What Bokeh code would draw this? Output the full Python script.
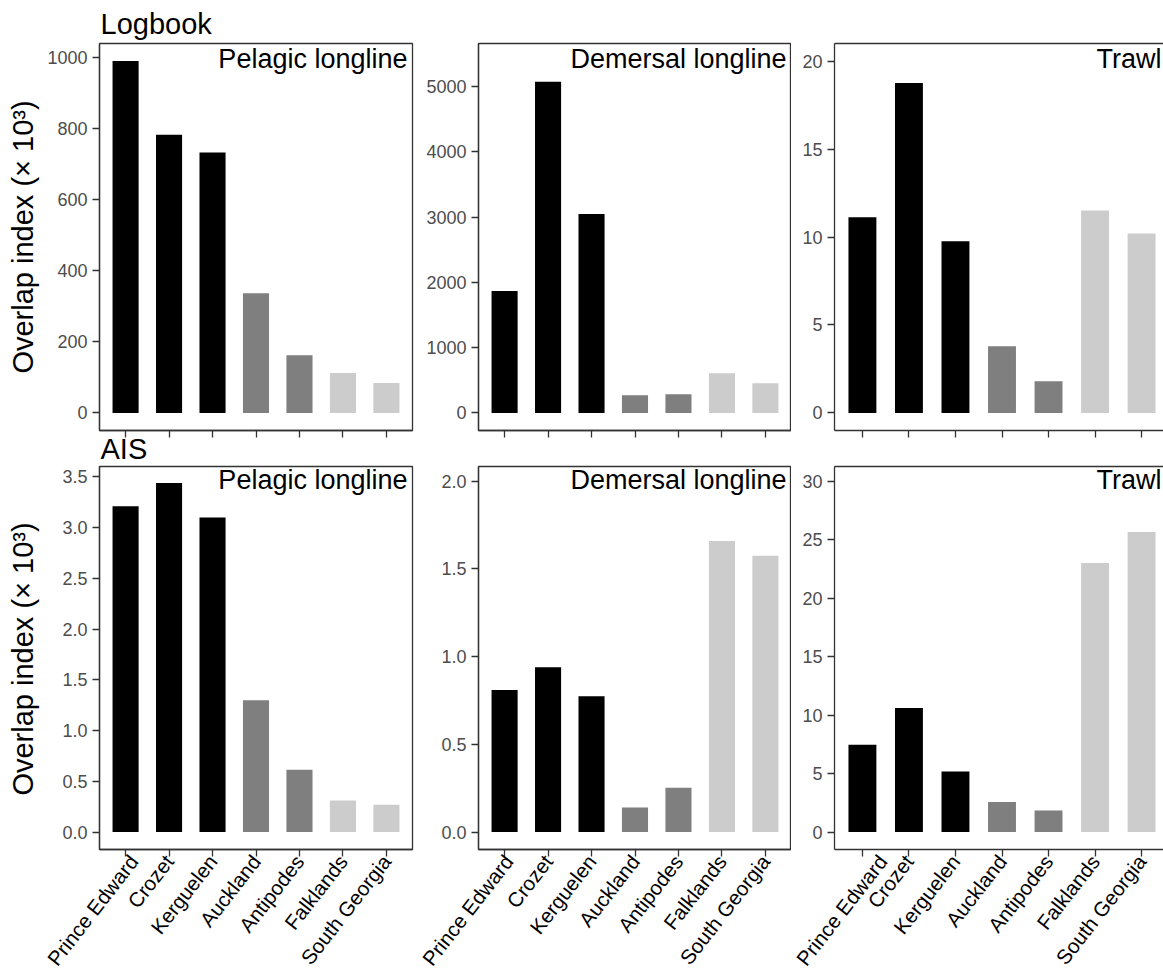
import math
from bokeh.plotting import figure
from bokeh.layouts import row, column
from bokeh.models import (Range1d, FixedTicker, Label, LinearAxis, ColumnDataSource,
                          Title)
from bokeh.embed import file_html
from bokeh.resources import INLINE

# ---------------- data ----------------
sites = ["Prince Edward", "Crozet", "Kerguelen", "Auckland", "Antipodes",
         "Falklands", "South Georgia"]
site_region = ["Indian", "Indian", "Indian", "Pacific", "Pacific",
               "Atlantic", "Atlantic"]
gears = ["Pelagic longline", "Demersal longline", "Trawl"]
row_names = ["Logbook", "AIS"]

logbook_pelagic = [990, 783, 733, 337, 162, 112, 84]
logbook_demersal = [1867, 5077, 3048, 271, 287, 609, 455]
logbook_trawl = [11.12, 18.75, 9.76, 3.79, 1.80, 11.5, 10.2]
ais_pelagic = [3.21, 3.44, 3.10, 1.30, 0.615, 0.31, 0.27]
ais_demersal = [0.81, 0.94, 0.775, 0.14, 0.253, 1.66, 1.575]
ais_trawl = [7.46, 10.6, 5.17, 2.58, 1.85, 23.0, 25.66]

# upper end of each panel's data range (ggplot adds 5% on both ends)
logbook_ymax = [990, 5392, 20.0]
ais_ymax = [3.43, 1.985, 29.77]

logbook_ticks = [[0, 200, 400, 600, 800, 1000],
                 [0, 1000, 2000, 3000, 4000, 5000],
                 [0, 5, 10, 15, 20]]
logbook_tick_labels = [["0", "200", "400", "600", "800", "1000"],
                       ["0", "1000", "2000", "3000", "4000", "5000"],
                       ["0", "5", "10", "15", "20"]]
ais_ticks = [[0, 0.5, 1.0, 1.5, 2.0, 2.5, 3.0, 3.5],
             [0, 0.5, 1.0, 1.5, 2.0],
             [0, 5, 10, 15, 20, 25, 30]]
ais_tick_labels = [["0.0", "0.5", "1.0", "1.5", "2.0", "2.5", "3.0", "3.5"],
                   ["0.0", "0.5", "1.0", "1.5", "2.0"],
                   ["0", "5", "10", "15", "20", "25", "30"]]

y_label = "Overlap index (\u00d7 10\u00b3)"

# ---------------- style / geometry ----------------
region_colors = {"Indian": "#000000", "Pacific": "#7F7F7F", "Atlantic": "#CCCCCC"}
FONT = "Liberation Sans"
EDGE = "#333333"
TICKTXT = "#4D4D4D"
MID = 0.3465          # distance from alphabetic baseline to text middle, in em
EMH = 1.117           # ascent + descent of the font, in em

YLAB_W = 42
TOTAL_W = 1163
left_border = [57, 61, 43]
right_border = [5, 0, 0]
frame_w = [313, 313, 329]
orig_w = [313, 313, 335]      # third panel runs past the right edge

TOP_TB, TOP_FH, TOP_BB = 43, 387, 35
BOT_TB, BOT_FH, BOT_BB = 1, 385, 128
TOTAL_H = TOP_TB + TOP_FH + TOP_BB + BOT_TB + BOT_FH + BOT_BB
TICK_OUT = 7

FACET_PX = 27
FACET_BASE = 25       # facet label baseline below the frame top
TITLE_PX = 29
YLAB_PX = 29


def blank(width, height):
    p = figure(width=width, height=height, x_range=Range1d(0, 1), y_range=Range1d(0, 1),
               min_border=0, x_axis_location=None, y_axis_location=None,
               output_backend="svg", toolbar_location=None)
    p.outline_line_color = None
    p.xgrid.visible = False
    p.ygrid.visible = False
    p.background_fill_color = "white"
    p.border_fill_color = "white"
    return p


def panel(values, ymax, ticks, tick_labels, gear_name, col, bottom):
    lb, rb, fw = left_border[col], right_border[col], frame_w[col]
    if bottom:
        tb, fh, bb = BOT_TB, BOT_FH, BOT_BB
    else:
        tb, fh, bb = TOP_TB, TOP_FH, TOP_BB
    x_end = 0.4 + 7.2 * fw / orig_w[col]
    p = figure(width=lb + fw + rb, height=tb + fh + bb,
               x_range=Range1d(0.4, x_end),
               y_range=Range1d(-0.05 * ymax, 1.05 * ymax),
               min_border_left=lb, min_border_right=rb,
               min_border_top=tb, min_border_bottom=bb,
               output_backend="svg", toolbar_location=None)
    p.background_fill_color = "white"
    p.border_fill_color = "white"
    p.xgrid.visible = False
    p.ygrid.visible = False

    xs = [i + 1 for i in range(len(sites))]
    src = ColumnDataSource(dict(x=xs, top=values, site=sites,
                                color=[region_colors[r] for r in site_region]))
    p.vbar(x="x", top="top", bottom=0, width=0.6, fill_color="color",
           line_color=None, source=src)

    for ax in (p.xaxis[0], p.yaxis[0]):
        ax.major_tick_line_color = EDGE
        ax.major_tick_line_width = 1.3
        ax.major_tick_out = TICK_OUT
        ax.major_tick_in = 0
        ax.minor_tick_line_color = None
        ax.axis_line_color = EDGE
        ax.axis_line_width = 1.3
        ax.major_label_text_font = FONT

    xa = p.xaxis[0]
    xa.ticker = FixedTicker(ticks=xs)
    if bottom:
        xa.major_label_overrides = {x: s for x, s in zip(xs, sites)}
        xa.major_label_orientation = math.radians(52)
        xa.major_label_text_font_size = "20.5px"
        xa.major_label_text_color = "black"
        xa.major_label_standoff = 1
    else:
        xa.major_label_overrides = {x: "" for x in xs}
        xa.major_label_text_font_size = "0px"
        xa.major_label_standoff = 0

    ya = p.yaxis[0]
    ya.ticker = FixedTicker(ticks=ticks)
    ya.major_label_overrides = {t: s for t, s in zip(ticks, tick_labels)}
    ya.major_label_text_font_size = "18px"
    ya.major_label_text_color = TICKTXT
    ya.major_label_standoff = 5

    if col < 2:
        p.outline_line_color = EDGE
        p.outline_line_width = 1.3
    else:
        p.outline_line_color = None
        top_ax = LinearAxis(ticker=FixedTicker(ticks=[]), axis_line_color=EDGE,
                            axis_line_width=1.3, major_tick_line_color=None,
                            minor_tick_line_color=None,
                            major_label_text_font_size="0px")
        p.add_layout(top_ax, "above")

    # facet label in the top right corner of the panel
    p.add_layout(Label(x=fw - (2 if col == 2 else 5),
                       y=fh - (FACET_BASE - MID * FACET_PX),
                       x_units="screen", y_units="screen", text=gear_name,
                       text_align="right", text_baseline="middle",
                       text_font=FONT, text_font_size=f"{FACET_PX}px",
                       text_color="black"))

    if col == 0 and not bottom:
        em = EMH * TITLE_PX
        # "Logbook": baseline 10px above the frame
        size1 = 2 * (10 + MID * TITLE_PX)
        p.title.text = row_names[0]
        p.title.align = "left"
        p.title.offset = 1
        p.title.vertical_align = "middle"
        p.title.standoff = size1 - 2 - em
        p.title.text_font = FONT
        p.title.text_font_size = f"{TITLE_PX}px"
        p.title.text_font_style = "normal"
        p.title.text_color = "black"
        # "AIS": baseline 28.5px below this frame, i.e. under the tick marks
        size2 = 2 * (28.5 - TICK_OUT - MID * TITLE_PX)
        p.add_layout(Title(text=row_names[1], align="left", offset=1,
                           vertical_align="middle", standoff=size2 - 2 - em,
                           text_font=FONT, text_font_size=f"{TITLE_PX}px",
                           text_font_style="normal", text_color="black"), "below")
    return p


top_vals = [logbook_pelagic, logbook_demersal, logbook_trawl]
bot_vals = [ais_pelagic, ais_demersal, ais_trawl]

top_row = [panel(top_vals[i], logbook_ymax[i], logbook_ticks[i],
                 logbook_tick_labels[i], gears[i], i, False) for i in range(3)]
bot_row = [panel(bot_vals[i], ais_ymax[i], ais_ticks[i],
                 ais_tick_labels[i], gears[i], i, True) for i in range(3)]

# strip on the left that carries the y-axis titles of both rows (baseline at x=33)
ylab = blank(YLAB_W, TOTAL_H)
top_center = TOP_TB + TOP_FH / 2
bot_center = TOP_TB + TOP_FH + TOP_BB + BOT_TB + BOT_FH / 2
for c in (top_center, bot_center):
    ylab.add_layout(Label(x=33 - MID * YLAB_PX, y=TOTAL_H - c,
                          x_units="screen", y_units="screen",
                          text=y_label, angle=math.pi / 2, text_align="center",
                          text_baseline="middle", text_font=FONT,
                          text_font_size=f"{YLAB_PX}px", text_color="black"))

layout = row(ylab, column(row(*top_row), row(*bot_row)))
open("out.html", "w").write(file_html(layout, INLINE))
